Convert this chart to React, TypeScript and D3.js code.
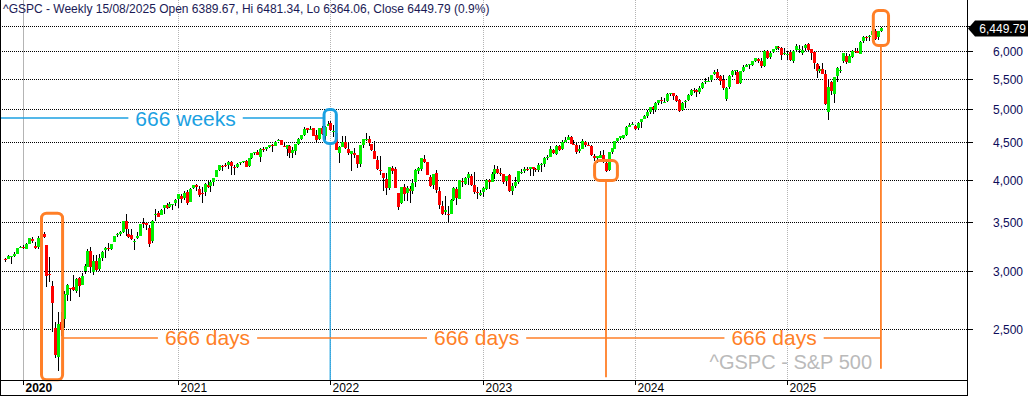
import React, { useRef, useEffect } from 'react';
import * as d3 from 'd3';

// weekly bars, first one is the week ending 22/11/2019
const firstWeek = new Date(2019, 10, 22);

const opens = [
  3117, 3114, 3144, 3141, 3170, 3223, 3240, 3218, 3266, 3321,
  3247, 3235, 3318, 3369, 3258, 2974, 2864, 2509, 2291, 2558,
  2578, 2782, 2846, 2854, 2815, 2939, 2869, 3004, 3038, 3199,
  2993, 3094, 3019, 3127, 3205, 3224, 3216, 3288, 3356, 3368,
  3396, 3509, 3371, 3363, 3285, 3334, 3349, 3487, 3493, 3441,
  3296, 3583, 3600, 3579, 3654, 3698, 3675, 3694, 3722, 3764,
  3803, 3781, 3851, 3731, 3903, 3939, 3885, 3842, 3845, 3938,
  3916, 3969, 4034, 4124, 4183, 4185, 4191, 4228, 4169, 4168,
  4216, 4232, 4243, 4174, 4285, 4356, 4372, 4297, 4409, 4406,
  4437, 4462, 4447, 4514, 4532, 4450, 4402, 4448, 4348, 4385,
  4474, 4548, 4610, 4701, 4689, 4712, 4602, 4548, 4710, 4587,
  4733, 4778, 4655, 4637, 4357, 4432, 4507, 4412, 4333, 4354,
  4322, 4201, 4462, 4541, 4547, 4474, 4385, 4262, 4130, 4081,
  4013, 3901, 4149, 4134, 3838, 3715, 3913, 3831, 3880, 3864,
  3966, 4112, 4140, 4270, 4226, 4034, 3930, 4084, 3861, 3683,
  3609, 3592, 3590, 3748, 3883, 3767, 3982, 3949, 4020, 4053,
  3939, 3853, 3816, 3853, 3884, 3999, 3970, 4070, 4137, 4083,
  4078, 3983, 4055, 3859, 3920, 3973, 4102, 4106, 4137, 4132,
  4167, 4136, 4127, 4191, 4206, 4282, 4298, 4396, 4337, 4450,
  4404, 4507, 4538, 4580, 4476, 4462, 4374, 4402, 4511, 4468,
  4453, 4310, 4284, 4289, 4326, 4218, 4120, 4364, 4406, 4516,
  4560, 4564, 4610, 4725, 4759, 4745, 4703, 4791, 4848, 4888,
  4957, 5026, 4989, 5093, 5140, 5111, 5123, 5236, 5258, 5211,
  5136, 4987, 5115, 5142, 5221, 5308, 5311, 5278, 5347, 5436,
  5460, 5471, 5572, 5620, 5545, 5475, 5151, 5353, 5562, 5637,
  5623, 5420, 5634, 5712, 5738, 5737, 5810, 5857, 5816, 5725,
  6005, 5893, 5983, 6040, 6083, 6057, 5943, 5920, 5982, 5811,
  6014, 6012, 5969, 6048, 6131, 6035, 5981, 5761, 5635, 5668,
  5581, 4953, 5442, 5233, 5538, 5656, 5807, 5914, 5781, 5896,
  6004, 6004, 5950, 6193, 6274, 6265, 6305, 6394, 6272, 6389.67,
];

const highs = [
  3127, 3154, 3150, 3183, 3226, 3248, 3258, 3276, 3330, 3338,
  3285, 3347, 3385, 3393, 3260, 3136, 2910, 2553, 2637, 2641,
  2818, 2879, 2844, 2964, 2934, 2945, 2980, 3068, 3211, 3233,
  3155, 3154, 3165, 3198, 3238, 3279, 3272, 3352, 3387, 3399,
  3509, 3588, 3425, 3428, 3320, 3393, 3482, 3549, 3494, 3466,
  3529, 3646, 3628, 3645, 3699, 3712, 3726, 3711, 3760, 3826,
  3823, 3861, 3870, 3894, 3937, 3950, 3928, 3914, 3960, 3983,
  3981, 4020, 4129, 4191, 4194, 4218, 4238, 4237, 4187, 4213,
  4234, 4249, 4262, 4287, 4355, 4372, 4393, 4415, 4429, 4441,
  4468, 4481, 4513, 4546, 4538, 4486, 4466, 4457, 4429, 4475,
  4559, 4608, 4718, 4708, 4743, 4705, 4672, 4713, 4731, 4740,
  4808, 4819, 4749, 4665, 4453, 4595, 4590, 4490, 4385, 4416,
  4329, 4465, 4546, 4637, 4593, 4471, 4512, 4309, 4307, 4081,
  4090, 4159, 4177, 4168, 3837, 3913, 3950, 3919, 3918, 4013,
  4140, 4167, 4280, 4325, 4204, 4062, 4076, 4119, 3908, 3736,
  3806, 3685, 3762, 3905, 3911, 4001, 4028, 4034, 4100, 4070,
  4100, 3906, 3878, 3906, 4003, 4015, 4094, 4195, 4182, 4156,
  4050, 4048, 4078, 3964, 4040, 4110, 4133, 4164, 4170, 4170,
  4167, 4155, 4212, 4212, 4291, 4323, 4448, 4407, 4459, 4456,
  4528, 4578, 4607, 4588, 4528, 4491, 4458, 4541, 4515, 4508,
  4461, 4338, 4317, 4385, 4393, 4259, 4366, 4415, 4521, 4560,
  4595, 4609, 4738, 4778, 4793, 4754, 4802, 4842, 4907, 4975,
  5030, 5048, 5111, 5140, 5189, 5179, 5261, 5264, 5264, 5222,
  5164, 5114, 5139, 5239, 5325, 5341, 5315, 5376, 5448, 5505,
  5523, 5570, 5655, 5669, 5566, 5566, 5358, 5561, 5643, 5651,
  5651, 5636, 5733, 5767, 5765, 5822, 5878, 5878, 5862, 6012,
  6017, 5973, 6044, 6099, 6090, 6085, 6050, 5995, 6021, 6014,
  6128, 6120, 6101, 6127, 6147, 6043, 5986, 5785, 5715, 5786,
  5655, 5481, 5459, 5528, 5700, 5720, 5959, 5968, 5944, 6016,
  6060, 6059, 6187, 6284, 6290, 6315, 6395, 6427, 6395, 6481.34,
];

const lows = [
  3091, 3114, 3070, 3132, 3166, 3222, 3212, 3214, 3263, 3281,
  3214, 3214, 3315, 3328, 2856, 2901, 2479, 2280, 2192, 2447,
  2504, 2727, 2727, 2816, 2797, 2766, 2909, 2969, 3038, 2984,
  2965, 3003, 2999, 3101, 3127, 3200, 3204, 3284, 3344, 3354,
  3387, 3349, 3329, 3313, 3209, 3323, 3354, 3440, 3415, 3233,
  3279, 3511, 3552, 3594, 3594, 3645, 3662, 3636, 3687, 3663,
  3723, 3749, 3694, 3725, 3885, 3866, 3789, 3723, 3805, 3894,
  3853, 3917, 4034, 4118, 4118, 4169, 4142, 4057, 4062, 4155,
  4184, 4217, 4165, 4164, 4271, 4321, 4323, 4233, 4367, 4374,
  4422, 4367, 4442, 4513, 4458, 4428, 4305, 4288, 4278, 4329,
  4469, 4537, 4595, 4630, 4672, 4585, 4495, 4531, 4600, 4531,
  4733, 4662, 4582, 4395, 4222, 4441, 4401, 4328, 4114, 4279,
  4157, 4161, 4424, 4517, 4450, 4381, 4267, 4124, 4062, 3858,
  3810, 3875, 4073, 3900, 3637, 3705, 3739, 3743, 3721, 3828,
  3911, 4079, 4112, 4218, 4057, 3907, 3886, 3838, 3647, 3584,
  3585, 3492, 3647, 3738, 3698, 3764, 3906, 3940, 3940, 3919,
  3827, 3764, 3800, 3794, 3877, 3885, 3969, 4015, 4079, 4047,
  3943, 3928, 3846, 3808, 3902, 3950, 4069, 4086, 4114, 4049,
  4048, 4099, 4105, 4103, 4167, 4259, 4301, 4341, 4328, 4385,
  4399, 4502, 4528, 4474, 4458, 4335, 4356, 4403, 4431, 4445,
  4316, 4238, 4216, 4283, 4223, 4103, 4113, 4341, 4412, 4510,
  4537, 4546, 4594, 4718, 4751, 4682, 4682, 4714, 4845, 4865,
  4918, 4920, 4946, 5057, 5074, 5104, 5117, 5204, 5146, 5107,
  4953, 4969, 5011, 5127, 5211, 5257, 5191, 5234, 5331, 5403,
  5448, 5448, 5567, 5497, 5390, 5305, 5119, 5330, 5536, 5560,
  5403, 5402, 5615, 5703, 5674, 5721, 5802, 5786, 5696, 5707,
  5853, 5857, 5965, 6023, 6024, 5832, 5933, 5829, 5809, 5773,
  5990, 5962, 5923, 6003, 6009, 5837, 5666, 5504, 5597, 5572,
  5069, 4835, 5220, 5101, 5434, 5598, 5778, 5768, 5848, 5861,
  5964, 5953, 5944, 6145, 6201, 6201, 6281, 6212, 6212, 6364.06,
];

const closes = [
  3110.29, 3140.98, 3145.91, 3168.80, 3221.22, 3240.02, 3234.85, 3265.35, 3329.62, 3295.47,
  3225.52, 3327.71, 3380.16, 3337.75, 2954.22, 2972.37, 2711.02, 2304.92, 2541.47, 2488.65,
  2789.82, 2874.56, 2836.74, 2830.71, 2929.80, 2863.70, 2955.45, 3044.31, 3193.93, 3041.31,
  3097.74, 3009.05, 3130.01, 3185.04, 3224.73, 3215.63, 3271.12, 3351.28, 3372.85, 3397.16,
  3508.01, 3426.96, 3340.97, 3319.47, 3298.46, 3348.44, 3477.13, 3483.81, 3465.39, 3269.96,
  3509.44, 3585.15, 3557.54, 3638.35, 3699.12, 3663.46, 3709.41, 3703.06, 3756.07, 3824.68,
  3768.25, 3841.47, 3714.24, 3886.83, 3934.83, 3906.71, 3811.15, 3841.94, 3943.34, 3913.10,
  3974.54, 4019.87, 4128.80, 4185.47, 4180.17, 4181.17, 4232.60, 4173.85, 4155.86, 4204.11,
  4229.89, 4247.44, 4166.45, 4280.70, 4352.34, 4369.55, 4327.16, 4411.79, 4395.26, 4436.52,
  4468.00, 4441.67, 4509.37, 4535.43, 4458.58, 4432.99, 4455.48, 4357.04, 4391.34, 4471.37,
  4544.90, 4605.38, 4697.53, 4682.85, 4697.96, 4594.62, 4538.43, 4712.02, 4620.64, 4725.79,
  4766.18, 4677.03, 4662.85, 4397.94, 4431.85, 4500.53, 4418.64, 4348.87, 4384.65, 4328.87,
  4204.31, 4463.12, 4543.06, 4545.86, 4488.28, 4392.59, 4271.78, 4131.93, 4123.34, 4023.89,
  3901.36, 4158.24, 4108.54, 3900.86, 3674.84, 3911.74, 3825.33, 3899.38, 3863.16, 3961.63,
  4130.29, 4145.19, 4280.15, 4228.48, 4057.66, 3924.26, 4067.36, 3873.33, 3693.23, 3585.62,
  3639.66, 3583.07, 3752.75, 3901.06, 3770.55, 3992.93, 3965.34, 4026.12, 4071.70, 3934.38,
  3852.36, 3844.82, 3839.50, 3895.08, 3999.09, 3972.61, 4070.56, 4136.48, 4090.46, 4079.09,
  3970.04, 4045.64, 3861.59, 3916.64, 3970.99, 4109.31, 4105.02, 4137.64, 4133.52, 4169.48,
  4136.25, 4124.08, 4191.98, 4205.45, 4282.37, 4298.86, 4409.59, 4348.33, 4450.38, 4398.95,
  4505.42, 4536.34, 4582.23, 4478.03, 4464.05, 4369.71, 4405.71, 4515.77, 4457.49, 4450.32,
  4320.06, 4288.05, 4308.50, 4327.78, 4224.16, 4117.37, 4358.34, 4415.24, 4514.02, 4559.34,
  4594.63, 4604.37, 4719.19, 4754.63, 4769.83, 4697.24, 4783.83, 4839.81, 4890.97, 4958.61,
  5026.61, 5005.57, 5088.80, 5137.08, 5123.69, 5117.09, 5234.18, 5254.35, 5204.34, 5123.41,
  4967.23, 5099.96, 5127.79, 5222.68, 5303.27, 5304.72, 5277.51, 5346.99, 5431.60, 5464.62,
  5460.48, 5567.19, 5615.35, 5505.00, 5459.10, 5346.56, 5344.16, 5554.25, 5634.61, 5648.40,
  5408.42, 5626.02, 5702.55, 5738.17, 5751.07, 5815.03, 5864.67, 5808.12, 5728.80, 5995.54,
  5870.62, 5969.34, 6032.38, 6090.27, 6051.09, 5930.85, 5970.84, 5942.47, 5827.04, 5996.66,
  6101.24, 6040.53, 6025.99, 6114.63, 6013.13, 5954.50, 5770.20, 5638.94, 5667.56, 5580.94,
  5074.08, 5363.36, 5282.70, 5525.21, 5686.67, 5659.91, 5958.38, 5802.82, 5911.69, 6000.36,
  5976.97, 5967.84, 6173.07, 6279.35, 6259.75, 6296.79, 6388.64, 6238.01, 6389.45, 6449.79,
];

const yearLabels = ['2020', '2021', '2022', '2023', '2024', '2025'];
const yearFirstBars = ['2020-01-03', '2021-01-08', '2022-01-07', '2023-01-06', '2024-01-05', '2025-01-03'];
const priceTicks = [2500, 3000, 3500, 4000, 4500, 5000, 5500, 6000, 6500];

const title = '^GSPC - Weekly 15/08/2025 Open 6389.67, Hi 6481.34, Lo 6364.06, Close 6449.79 (0.9%)';
const watermark = '^GSPC - S&P 500';

// highlight boxes: [first bar, last bar] and [top price, bottom price]
const boxBars = [[12.3, 19.5], [108.8, 113.0], [201.2, 209.0], [296.4, 301.6]];
const boxPrices = [[3600, 2130], [4990, 4484], [4250, 3990], [6816, 6105]];
const boxIsBlue = [false, true, false, false];
// where the vertical drop lines from boxes 1..3 end
const dropEnds = [2128.7, 2148, 2205];

const weeksLabel = '666 weeks';
const weeksLabelBar = 61.5;
const weeksLinePrice = 4858;
const daysLabel = '666 days';
const daysLabelBars = [69, 160.9, 262.5];
const daysLinePrice = 2430;

const ORANGE = '#ff7f27';
const BLUE = '#1ba1e2';
const FONT = 'Liberation Sans, Arial, sans-serif';

const W = 1028;
const H = 396;
const PR = 967; // plot right edge
const PB = 380; // plot bottom edge

const App: React.FC = () => {
  const ref = useRef<SVGSVGElement | null>(null);

  useEffect(() => {
    document.body.style.margin = '0';
    if (!ref.current) return;
    const svg = d3.select(ref.current);
    svg.selectAll('*').remove();

    const x = d3.scaleLinear().domain([-1.878, 328.4]).range([0, PR]);
    const y = d3.scaleLog().domain([2128.7, 7045.6]).range([PB, 0]);

    const fmtDate = d3.timeFormat('%Y-%m-%d');
    const dates = closes.map((_, i) => fmtDate(d3.timeDay.offset(firstWeek, 7 * i)));
    const yearBars = yearFirstBars.map((d) => dates.indexOf(d));

    svg.append('rect').attr('width', W).attr('height', H).attr('fill', '#fff');

    const grid = svg.append('g').attr('shape-rendering', 'crispEdges');
    yearBars.forEach((b, k) => {
      const px = Math.round(x(b)) + 0.5;
      grid
        .append('line')
        .attr('x1', px)
        .attr('x2', px)
        .attr('y1', 0)
        .attr('y2', PB)
        .attr('stroke', '#b4b4b4')
        .attr('stroke-dasharray', k === 0 ? null : '1,1');
    });
    priceTicks.forEach((v) => {
      const py = Math.round(y(v)) + 0.5;
      grid
        .append('line')
        .attr('x1', 0)
        .attr('x2', PR)
        .attr('y1', py)
        .attr('y2', py)
        .attr('stroke', '#000')
        .attr('stroke-dasharray', '1,1');
    });

    // candles
    const bars = closes.map((c, i) => ({
      i,
      o: opens[i],
      c,
      h: Math.max(highs[i], opens[i], c),
      l: Math.min(lows[i], opens[i], c),
    }));
    const cg = svg.append('g').attr('shape-rendering', 'crispEdges');
    cg.selectAll('line')
      .data(bars)
      .join('line')
      .attr('x1', (d) => Math.round(x(d.i)) + 0.5)
      .attr('x2', (d) => Math.round(x(d.i)) + 0.5)
      .attr('y1', (d) => y(d.h))
      .attr('y2', (d) => y(d.l))
      .attr('stroke', '#000');
    cg.selectAll('rect')
      .data(bars)
      .join('rect')
      .attr('x', (d) => Math.round(x(d.i)) - 1)
      .attr('width', 3)
      .attr('y', (d) => y(Math.max(d.o, d.c)))
      .attr('height', (d) => Math.max(1, y(Math.min(d.o, d.c)) - y(Math.max(d.o, d.c))))
      .attr('fill', (d) => (d.c >= d.o ? '#00ee00' : '#ff0000'));

    // watermark
    svg
      .append('text')
      .attr('x', PR - 95)
      .attr('y', 369)
      .attr('text-anchor', 'end')
      .attr('font-family', FONT)
      .attr('font-size', 20)
      .attr('fill', '#bababa')
      .text(watermark);

    // annotations
    const ann = svg.append('g');
    const boxes = boxBars.map((b, k) => ({
      x0: x(b[0]),
      x1: x(b[1]),
      y0: y(boxPrices[k][0]),
      y1: y(boxPrices[k][1]),
      color: boxIsBlue[k] ? BLUE : ORANGE,
    }));

    const labelledLine = (
      xStart: number,
      xEnd: number,
      py: number,
      label: string,
      centers: number[],
      color: string
    ) => {
      const gaps: [number, number][] = [];
      centers.forEach((cx) => {
        const t = ann
          .append('text')
          .attr('x', cx)
          .attr('y', py + 7.5)
          .attr('text-anchor', 'middle')
          .attr('font-family', FONT)
          .attr('font-size', 21)
          .attr('fill', color)
          .text(label);
        const w = (t.node() as SVGTextElement).getComputedTextLength();
        gaps.push([cx - w / 2 - 7, cx + w / 2 + 7]);
      });
      let from = xStart;
      gaps.forEach(([a, b]) => {
        ann.append('line').attr('x1', from).attr('x2', a).attr('y1', py).attr('y2', py)
          .attr('stroke', color).attr('stroke-width', 1.5);
        from = b;
      });
      ann.append('line').attr('x1', from).attr('x2', xEnd).attr('y1', py).attr('y2', py)
        .attr('stroke', color).attr('stroke-width', 1.5);
    };

    // vertical drop lines
    boxes.slice(1).forEach((bx, k) => {
      const cx = (bx.x0 + bx.x1) / 2;
      ann
        .append('line')
        .attr('x1', cx)
        .attr('x2', cx)
        .attr('y1', bx.y1)
        .attr('y2', y(dropEnds[k]))
        .attr('stroke', bx.color)
        .attr('stroke-width', bx.color === BLUE ? 1.2 : 1.8);
    });

    labelledLine(0, boxes[1].x0, y(weeksLinePrice), weeksLabel, [x(weeksLabelBar)], BLUE);
    labelledLine(
      boxes[0].x1,
      (boxes[3].x0 + boxes[3].x1) / 2,
      y(daysLinePrice),
      daysLabel,
      daysLabelBars.map((b) => x(b)),
      ORANGE
    );

    boxes.forEach((bx) => {
      ann
        .append('rect')
        .attr('x', bx.x0)
        .attr('y', bx.y0)
        .attr('width', bx.x1 - bx.x0)
        .attr('height', bx.y1 - bx.y0)
        .attr('rx', 5)
        .attr('fill', 'none')
        .attr('stroke', bx.color)
        .attr('stroke-width', 3);
    });

    // frame
    const frame = svg.append('g').attr('shape-rendering', 'crispEdges').attr('stroke', '#000');
    frame.append('line').attr('x1', 0.5).attr('x2', 0.5).attr('y1', 0).attr('y2', H);
    frame.append('line').attr('x1', PR + 0.5).attr('x2', PR + 0.5).attr('y1', 0).attr('y2', H);
    frame.append('line').attr('x1', 0).attr('x2', PR).attr('y1', PB + 0.5).attr('y2', PB + 0.5);
    frame.append('line').attr('x1', 0).attr('x2', PR).attr('y1', H - 0.5).attr('y2', H - 0.5);

    // right price axis (a label sitting under the last-price tag stays hidden)
    const last = closes[closes.length - 1];
    const yc = Math.round(y(last)) + 0.5;
    const fmt = d3.format(',');
    priceTicks.forEach((v) => {
      const py = Math.round(y(v)) + 0.5;
      frame.append('line').attr('x1', PR).attr('x2', PR + 6).attr('y1', py).attr('y2', py);
      if (Math.abs(py - yc) < 12) return;
      svg
        .append('text')
        .attr('x', 1023)
        .attr('y', py + 4)
        .attr('text-anchor', 'end')
        .attr('font-family', FONT)
        .attr('font-size', 12)
        .attr('fill', '#0c0c5a')
        .text(fmt(v));
    });

    // last price tag
    svg
      .append('polygon')
      .attr('points', `${PR + 1},${yc} ${PR + 8},${yc - 8} ${W},${yc - 8} ${W},${yc + 8} ${PR + 8},${yc + 8}`)
      .attr('fill', '#000');
    svg
      .append('text')
      .attr('x', W - 2)
      .attr('y', yc + 4.5)
      .attr('text-anchor', 'end')
      .attr('font-family', FONT)
      .attr('font-size', 12)
      .attr('fill', '#fff')
      .text(d3.format(',.2f')(last));

    // year axis
    yearBars.forEach((b, k) => {
      const px = Math.round(x(b)) + 0.5;
      frame.append('line').attr('x1', px).attr('x2', px).attr('y1', PB).attr('y2', PB + 5);
      svg
        .append('text')
        .attr('x', px + 2)
        .attr('y', 392)
        .attr('font-family', FONT)
        .attr('font-size', 12)
        .attr('font-weight', k === 0 ? 'bold' : 'normal')
        .attr('fill', '#000')
        .text(yearLabels[k]);
    });

    // title
    svg
      .append('text')
      .attr('x', 3)
      .attr('y', 13)
      .attr('font-family', FONT)
      .attr('font-size', 12)
      .attr('fill', '#1a1a55')
      .text(title);
  }, []);

  return <svg ref={ref} width={W} height={H} style={{ display: 'block' }}></svg>;
};

export default App;
